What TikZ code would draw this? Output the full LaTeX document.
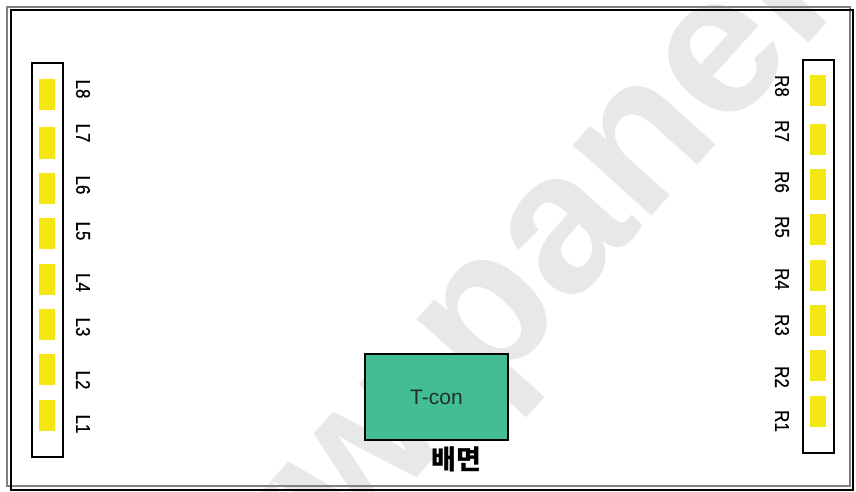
\documentclass[tikz,border=0pt]{standalone}
\usepackage{fontspec}
\setmainfont{Liberation Sans}
\newfontfamily\labfont[FakeStretch=0.85,FakeBold=0.4]{Liberation Sans}
\newfontfamily\krfont{Noto Sans CJK KR}
\definecolor{ledyellow}{RGB}{245,232,18}
\definecolor{tcongreen}{RGB}{66,189,148}
\definecolor{wmgray}{RGB}{232,232,232}
\definecolor{framegray}{RGB}{128,128,128}
\definecolor{tcontext}{RGB}{30,50,40}
\begin{document}
\begin{tikzpicture}[x=1pt,y=-1pt,
  strip/.style={draw=black, line width=1.3pt, fill=white, inner sep=0pt, minimum width=31pt},
  led/.style={fill=ledyellow, inner sep=0pt, minimum width=16pt, minimum height=31pt},
  lbl/.style={font=\labfont\fontsize{20}{20}\selectfont, rotate=-90, inner sep=0pt},
  tconbox/.style={draw=black, line width=1.3pt, fill=tcongreen, minimum width=143pt, minimum height=86pt, inner sep=0pt, font=\fontsize{21}{21}\selectfont, text=tcontext},
  wm/.style={font=\bfseries\fontsize{200}{200}\selectfont, text=wmgray, inner sep=0pt},
]
\useasboundingbox (0,0) rectangle (856,492);
\begin{scope}
  \clip (0,0) rectangle (856,492);
  \node[wm, rotate=48, anchor=base west] (wm) at (142,783) {www.panelook.com};
\end{scope}
% frame
\draw[framegray, line width=2pt] (7,7) rectangle (850,486);
\draw[black, line width=2pt] (10.5,10.5) rectangle (852.5,489.5);
% strips
\node[strip, minimum height=394pt] (lstrip) at (47.5,260) {};
\node[strip, minimum height=393pt] (rstrip) at (818.5,256.5) {};
\foreach \i/\y/\ty in {1/415.5/424, 2/369.5/380, 3/324.5/327, 4/279.5/282.5, 5/233.5/231, 6/188/185, 7/143/133, 8/94.5/89} {
  \node[led] (L\i) at (47,\y) {};
  \node[lbl] (Lt\i) at (83,\ty) {L\i};
}
\foreach \i/\y/\ty in {1/411.5/421, 2/365.5/377, 3/320.5/325, 4/275.5/279, 5/229.5/227, 6/184.5/182, 7/139.5/131, 8/90.5/86} {
  \node[led] (R\i) at (818,\y) {};
  \node[lbl] (Rt\i) at (782,\ty) {R\i};
}
% T-con
\node[tconbox] (tcon) at (436.5,397) {T-con};
\node[font=\krfont\bfseries\fontsize{27}{27}\selectfont, inner sep=0pt] (back) at (456,459) {배면};
\end{tikzpicture}
\end{document}
